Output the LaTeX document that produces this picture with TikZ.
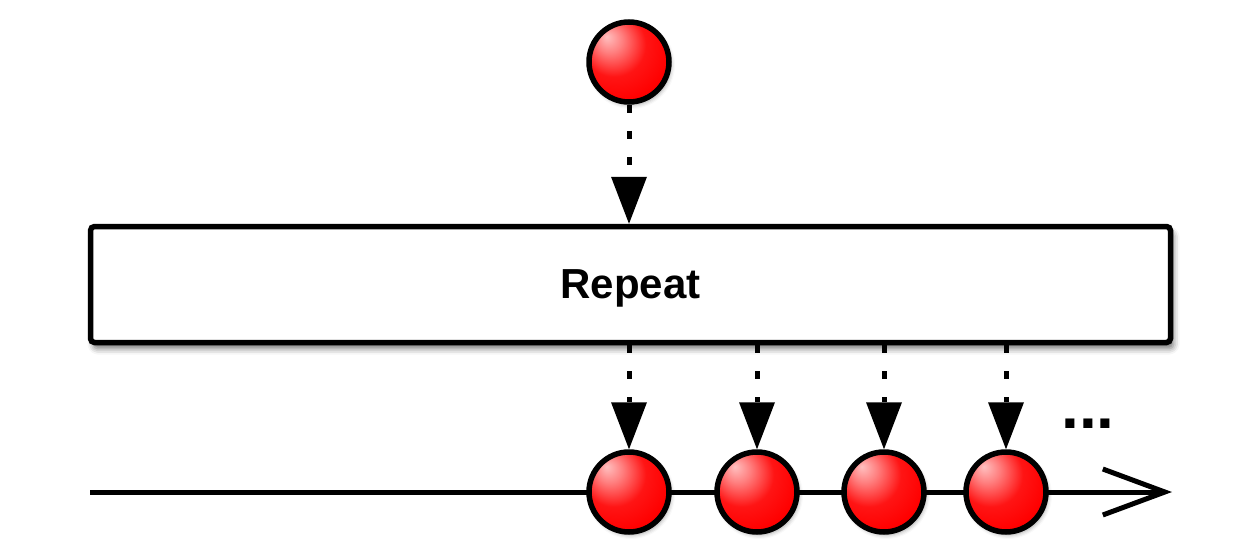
\documentclass[tikz,border=0pt]{standalone}
\usepackage{fontspec}
\setmainfont{Liberation Sans}
\usetikzlibrary{arrows.meta,shadows.blur}
\pgfdeclareradialshading{redball}{\pgfpoint{-14bp}{16bp}}{color(0bp)=(white!75!red); color(8bp)=(red!50!white); color(20bp)=(red!92!white); color(32bp)=(red); color(44bp)=(red!90!black); color(62bp)=(red!72!black)}
\tikzset{
  ball/.style={circle, draw=black, line width=5.5pt, minimum size=80pt, inner sep=0pt,
    shading=redball, blur shadow={shadow xshift=2pt, shadow yshift=-3pt, shadow blur radius=4pt, shadow opacity=35}},
  flow/.style={line width=5pt, dash pattern=on 8pt off 18pt,
    -{Triangle[length=47pt,width=36pt,line width=0pt]}},
  opbox/.style={draw=black, line width=5.5pt, rounded corners=4pt, fill=white,
    minimum width=1080pt, minimum height=116pt, text depth=0pt,
    font=\fontsize{42}{50}\selectfont\bfseries,
    blur shadow={shadow xshift=3pt, shadow yshift=-6pt, shadow blur radius=6pt, shadow opacity=55}},
  timeline/.style={line width=5pt, -{Straight Barb[length=62pt,width=46pt]}}
}
\begin{document}
\begin{tikzpicture}[x=1pt,y=-1pt]
\useasboundingbox (0,0) rectangle (1240,549);
% timeline
\coordinate (tl0) at (90,492);
\coordinate (tl1) at (1172,492);
\draw[timeline] (tl0) -- (tl1);
% operator box
\node[opbox] (box) at (630.5,284.5) {Repeat};
% source ball
\node[ball] (src) at (629,62) {};
% output balls
\node[ball] (o1) at (629,492) {};
\node[ball] (o2) at (757,492) {};
\node[ball] (o3) at (884,492) {};
\node[ball] (o4) at (1006,492) {};
% ellipsis
\node[anchor=base, inner sep=0pt, font=\fontsize{64}{70}\selectfont\bfseries] (dots) at (1088,428) {...};
% flows
\draw[flow] (src.south) -- (src |- box.north);
\draw[flow] (o1 |- box.south) -- (o1.north);
\draw[flow] (o2 |- box.south) -- (o2.north);
\draw[flow] (o3 |- box.south) -- (o3.north);
\draw[flow] (o4 |- box.south) -- (o4.north);
\end{tikzpicture}
\end{document}
